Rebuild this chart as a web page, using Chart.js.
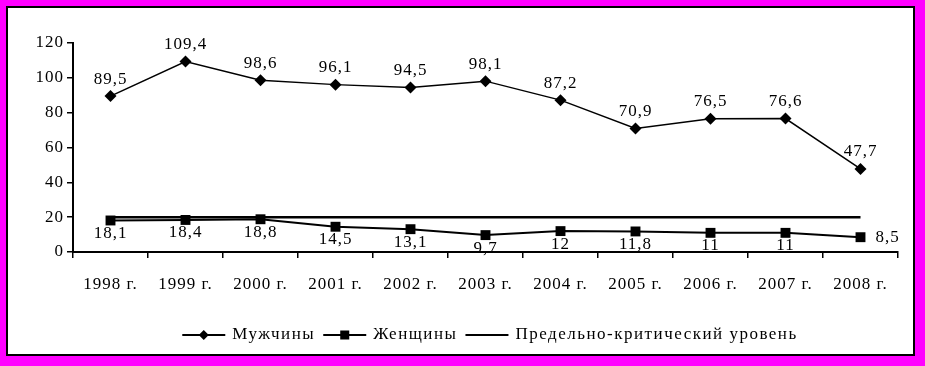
<!DOCTYPE html>
<html>
<head>
<meta charset="utf-8">
<script src="https://cdn.jsdelivr.net/npm/chart.js@4/dist/chart.umd.min.js"></script>
<style>
  html, body { margin: 0; padding: 0; background: #ff00ff; }
  #frame { position: relative; width: 925px; height: 366px; background: #ff00ff; overflow: hidden; }
  #box { position: absolute; left: 6px; top: 6px; width: 905px; height: 346px; border: 2px solid #000; background: #fff; }
  canvas { position: absolute; left: 0; top: 0; }
</style>
</head>
<body>
<div id="frame">
  <div id="box"></div>
  <canvas id="chart" width="925" height="366"></canvas>
</div>
<script>
// данные
const years = ['1998 г.', '1999 г.', '2000 г.', '2001 г.', '2002 г.', '2003 г.',
  '2004 г.', '2005 г.', '2006 г.', '2007 г.', '2008 г.'];
const men = [89.5, 109.4, 98.6, 96.1, 94.5, 98.1, 87.2, 70.9, 76.5, 76.6, 47.7];
const women = [18.1, 18.4, 18.8, 14.5, 13.1, 9.7, 12, 11.8, 11, 11, 8.5];
const critical = [20, 20, 20, 20, 20, 20, 20, 20, 20, 20, 20];
const seriesNames = ['Мужчины', 'Женщины', 'Предельно-критический уровень'];

const FONT = '"Liberation Serif", "Times New Roman", serif';

function fmt(v) {
  return String(v).replace('.', ',');
}

// подписи значений + легенда
const labelsPlugin = {
  id: 'labelsPlugin',
  beforeUpdate(chart) { chart.ctx.letterSpacing = '1px'; },
  beforeDraw(chart) { chart.ctx.letterSpacing = '1px'; },
  afterDatasetsDraw(chart) {
    const ctx = chart.ctx;
    ctx.save();
    ctx.letterSpacing = '1px';
    ctx.font = '17px ' + FONT;
    ctx.fillStyle = '#000';
    ctx.textBaseline = 'middle';

    chart.getDatasetMeta(0).data.forEach((p, i) => {
      ctx.textAlign = 'center';
      ctx.fillText(fmt(men[i]), p.x, p.y - 17);
    });

    const wMeta = chart.getDatasetMeta(1).data;
    wMeta.forEach((p, i) => {
      if (i === wMeta.length - 1) {
        ctx.textAlign = 'left';
        ctx.fillText(fmt(women[i]), p.x + 15, p.y);
      } else {
        ctx.textAlign = 'center';
        ctx.fillText(fmt(women[i]), p.x, p.y + 13);
      }
    });
    ctx.restore();
  },
  afterDraw(chart) {
    const ctx = chart.ctx;
    ctx.save();
    ctx.letterSpacing = '1.5px';
    ctx.font = '17px ' + FONT;
    ctx.fillStyle = '#000';
    ctx.strokeStyle = '#000';
    ctx.textBaseline = 'middle';
    ctx.textAlign = 'left';

    const lineLen = 43, gap = 7, between = 8;
    const widths = seriesNames.map(n => ctx.measureText(n).width);
    const total = widths.reduce((a, w) => a + lineLen + gap + w, 0) + between * 2;
    let x = 490 - total / 2;
    const y = 335;

    seriesNames.forEach((name, i) => {
      ctx.lineWidth = 2;
      ctx.beginPath();
      ctx.moveTo(x, y);
      ctx.lineTo(x + lineLen, y);
      ctx.stroke();
      const cx = x + lineLen / 2;
      if (i === 0) {
        ctx.beginPath();
        ctx.moveTo(cx, y - 5);
        ctx.lineTo(cx + 5, y);
        ctx.lineTo(cx, y + 5);
        ctx.lineTo(cx - 5, y);
        ctx.closePath();
        ctx.fill();
      } else if (i === 1) {
        ctx.fillRect(cx - 4.5, y - 4.5, 9, 9);
      }
      ctx.fillText(name, x + lineLen + gap, y);
      x += lineLen + gap + widths[i] + between;
    });
    ctx.restore();
  }
};

new Chart(document.getElementById('chart'), {
  type: 'line',
  data: {
    labels: years,
    datasets: [
      {
        label: seriesNames[0],
        data: men,
        borderColor: '#000',
        backgroundColor: '#000',
        borderWidth: 1.5,
        pointStyle: 'rectRot',
        pointRadius: 6,
        pointBorderWidth: 0,
        tension: 0
      },
      {
        label: seriesNames[1],
        data: women,
        borderColor: '#000',
        backgroundColor: '#000',
        borderWidth: 2,
        pointStyle: 'rect',
        pointRadius: 7,
        pointBorderWidth: 0,
        tension: 0
      },
      {
        label: seriesNames[2],
        data: critical,
        borderColor: '#000',
        borderWidth: 2.5,
        pointRadius: 0,
        tension: 0
      }
    ]
  },
  options: {
    responsive: false,
    animation: false,
    devicePixelRatio: 1,
    layout: { padding: { left: 0, right: 27, top: 43, bottom: 0 } },
    plugins: {
      legend: { display: false },
      tooltip: { enabled: false }
    },
    scales: {
      x: {
        offset: true,
        afterFit(scale) { scale.height = 114; },
        border: { color: '#000', width: 2 },
        grid: {
          offset: true,
          drawOnChartArea: false,
          drawTicks: true,
          tickLength: 6,
          color: '#000',
          lineWidth: 1.5
        },
        ticks: {
          color: '#000',
          padding: 16,
          maxRotation: 0,
          autoSkip: false,
          font: { family: FONT, size: 17 }
        }
      },
      y: {
        min: 0,
        max: 120,
        afterFit(scale) { scale.width = 73; },
        border: { color: '#000', width: 2 },
        grid: {
          drawOnChartArea: false,
          drawTicks: true,
          tickLength: 6,
          color: '#000',
          lineWidth: 1.5
        },
        ticks: {
          stepSize: 20,
          color: '#000',
          padding: 3,
          font: { family: FONT, size: 17 }
        }
      }
    }
  },
  plugins: [labelsPlugin]
});
</script>
</body>
</html>
